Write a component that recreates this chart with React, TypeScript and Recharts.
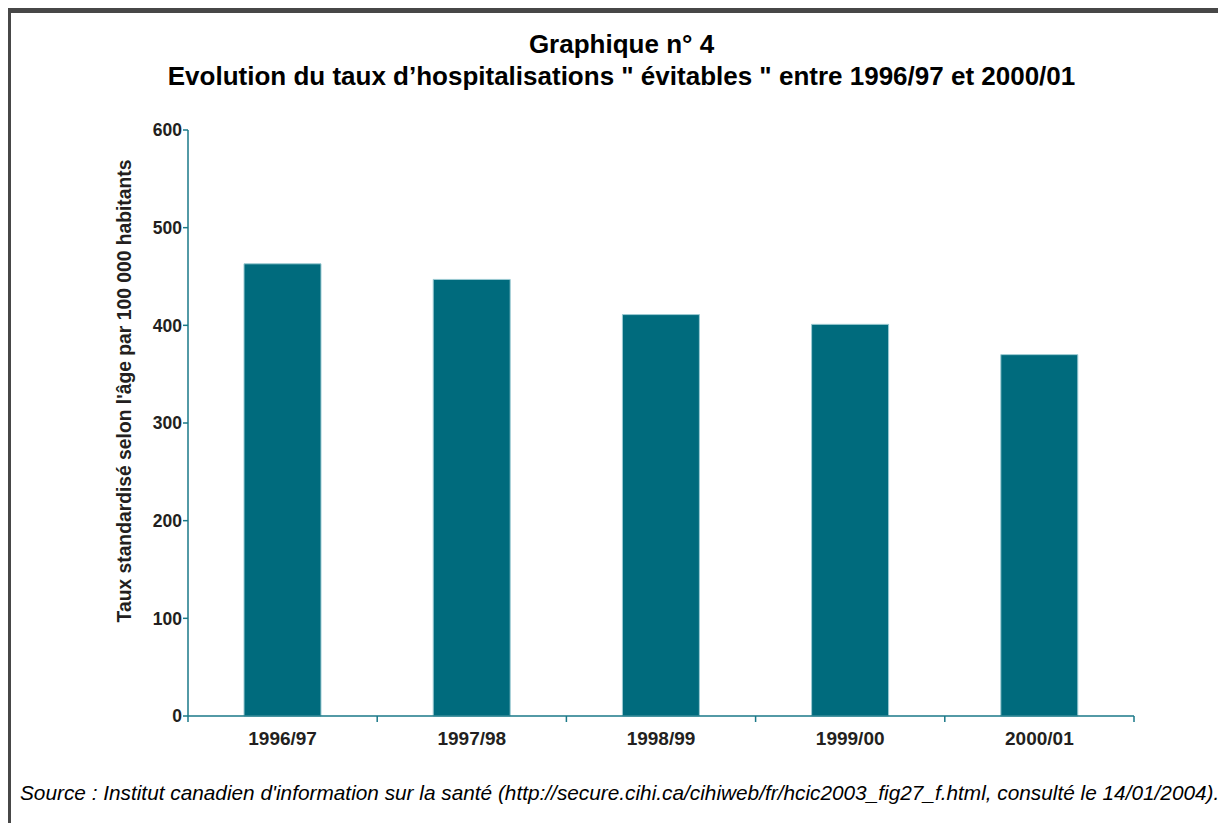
import { BarChart, Bar, XAxis, YAxis } from 'recharts';

const periods = ['1996/97', '1997/98', '1998/99', '1999/00', '2000/01'];
const rates = [463, 447, 411, 401, 370];
const yTicks = [0, 100, 200, 300, 400, 500, 600];
const yTitle = "Taux standardisé selon l'âge par 100 000 habitants";

const TEAL = '#006B7D';
const AXIS = '#1a7888';
const INK = '#231f20';
const FONT = '"Liberation Sans", Arial, Helvetica, sans-serif';

const data = periods.map((name, i) => ({ name, value: rates[i] }));

// category label plus the small tick marks sitting on the band edges
function PeriodTick(props: any) {
  const { x, y, payload, index, visibleTicksCount } = props;
  const half = payload.offset || 0;
  const axisY = y - 16;
  return (
    <g>
      <line x1={x - half} y1={axisY} x2={x - half} y2={axisY + 6} stroke={AXIS} strokeWidth={1.5} />
      {index === visibleTicksCount - 1 && (
        <line x1={x + half} y1={axisY} x2={x + half} y2={axisY + 6} stroke={AXIS} strokeWidth={1.5} />
      )}
      <text
        x={x}
        y={y}
        dy="0.71em"
        textAnchor="middle"
        fill={INK}
        fontSize={19}
        fontWeight="bold"
        fontFamily={FONT}
      >
        {payload.value}
      </text>
    </g>
  );
}

// rotated axis title, sitting a little above the middle of the axis as in the original
function YTitle(props: any) {
  const { viewBox } = props;
  const cx = viewBox.x + 113;
  const cy = viewBox.y + viewBox.height / 2 - 32;
  return (
    <text
      x={cx}
      y={cy}
      transform={`rotate(-90 ${cx} ${cy})`}
      textAnchor="middle"
      dominantBaseline="central"
      fill={INK}
      fontSize={19.3}
      fontWeight="bold"
      fontFamily={FONT}
    >
      {yTitle}
    </text>
  );
}

export default function App() {
  return (
    <div
      style={{
        position: 'relative',
        marginLeft: -2,
        width: 1213,
        height: 830,
        borderTop: '5px solid #474747',
        borderLeft: '5px solid #474747',
        borderRight: '2px solid #474747',
        background: '#fff',
        fontFamily: FONT,
      }}
    >
      <div
        style={{
          position: 'absolute',
          top: 15,
          left: 0,
          width: 1221,
          textAlign: 'center',
          fontWeight: 'bold',
          fontSize: 26,
          lineHeight: '32px',
          color: '#000',
        }}
      >
        <div>Graphique n° 4</div>
        <div>Evolution du taux d’hospitalisations " évitables " entre 1996/97 et 2000/01</div>
      </div>

      <div style={{ position: 'absolute', top: 0, left: 0 }}>
        <BarChart
          width={1200}
          height={800}
          data={data}
          margin={{ top: 117, right: 77, bottom: 67, left: 0 }}
          barCategoryGap="29.6%"
        >
          <XAxis
            dataKey="name"
            tickLine={false}
            tickSize={0}
            tickMargin={16}
            interval={0}
            axisLine={{ stroke: AXIS, strokeWidth: 1.5 }}
            tick={<PeriodTick />}
            height={30}
          />
          <YAxis
            width={177}
            domain={[0, 600]}
            ticks={yTicks}
            interval={0}
            tickSize={5}
            tickMargin={1}
            tickLine={{ stroke: AXIS, strokeWidth: 1.5 }}
            axisLine={{ stroke: AXIS, strokeWidth: 1.5 }}
            tick={{ fill: INK, fontSize: 17.5, fontWeight: 'bold', fontFamily: FONT }}
            label={<YTitle />}
          />
          <Bar
            dataKey="value"
            fill={TEAL}
            stroke="#9ccbd3"
            strokeWidth={1}
            isAnimationActive={false}
          />
        </BarChart>
      </div>

      <div
        style={{
          position: 'absolute',
          top: 768,
          left: 9,
          fontStyle: 'italic',
          fontSize: 20.8,
          color: '#000',
          whiteSpace: 'nowrap',
        }}
      >
        Source : Institut canadien d'information sur la santé (http://secure.cihi.ca/cihiweb/fr/hcic2003_fig27_f.html, consulté le 14/01/2004).
      </div>
    </div>
  );
}
